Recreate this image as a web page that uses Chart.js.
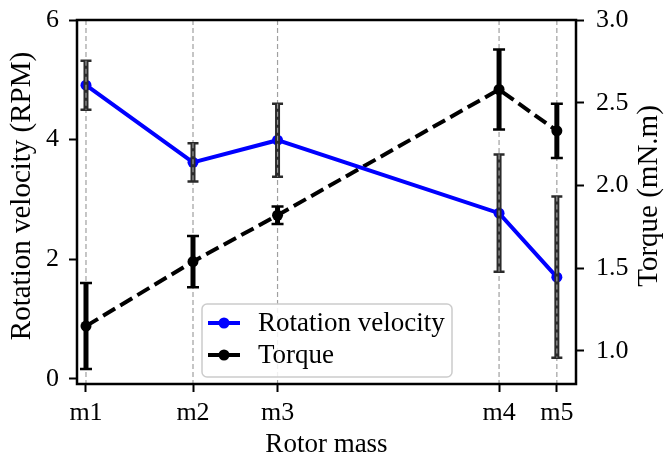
<!DOCTYPE html>
<html>
<head>
<meta charset="utf-8">
<script src="https://cdn.jsdelivr.net/npm/chart.js@4.4.0/dist/chart.umd.min.js"></script>
<style>
html,body{margin:0;padding:0;background:#fff;}
canvas{display:block;}
</style>
</head>
<body>
<canvas id="c" width="665" height="464"></canvas>
<script>
// ---- data ----
const categories = ['m1', 'm2', 'm3', 'm4', 'm5'];
const massPositions = [1.0, 2.0, 2.79, 4.86, 5.40];
const rotationVelocity = [4.91, 3.62, 3.99, 2.77, 1.70];
const rotationVelocityErr = [0.41, 0.32, 0.61, 0.98, 1.35];
const torque = [1.15, 1.54, 1.82, 2.58, 2.33];
const torqueErr = [0.26, 0.155, 0.053, 0.242, 0.164];
const velocityTicks = [0, 2, 4, 6];
const torqueTicks = [1.0, 1.5, 2.0, 2.5, 3.0];

const FONT = "'Liberation Serif', 'Times New Roman', 'DejaVu Serif', serif";
const TICK_SIZE = 26;
const TITLE_SIZE = 27;
const YTITLE_SIZE = 29;

Chart.defaults.font.family = FONT;
Chart.defaults.color = '#000';

function drawErrorBars(ctx, xs, ys, vals, errs, st) {
  ctx.save();
  ctx.setLineDash([]);
  ctx.strokeStyle = st.color;
  for (let i = 0; i < vals.length; i++) {
    const px = xs.getPixelForValue(massPositions[i]);
    const top = ys.getPixelForValue(vals[i] + errs[i]);
    const bot = ys.getPixelForValue(vals[i] - errs[i]);
    ctx.lineWidth = st.width;
    ctx.beginPath(); ctx.moveTo(px, top); ctx.lineTo(px, bot); ctx.stroke();
    ctx.lineWidth = st.capWidth;
    ctx.beginPath();
    ctx.moveTo(px - st.cap, top); ctx.lineTo(px + st.cap, top);
    ctx.moveTo(px - st.cap, bot); ctx.lineTo(px + st.cap, bot);
    ctx.stroke();
    if (st.overlayGrid) {
      ctx.save();
      ctx.strokeStyle = '#9a9a9a';
      ctx.lineWidth = 1.2;
      ctx.setLineDash([5, 3]);
      ctx.beginPath(); ctx.moveTo(px, top); ctx.lineTo(px, bot); ctx.stroke();
      ctx.restore();
    }
  }
  ctx.restore();
}

const gridPlugin = {
  id: 'dashedGrid',
  beforeDatasetsDraw(chart) {
    const {ctx, chartArea, scales} = chart;
    ctx.save();
    ctx.strokeStyle = '#a0a0a0';
    ctx.lineWidth = 1.2;
    ctx.setLineDash([5, 3]);
    massPositions.forEach(v => {
      const px = scales.x.getPixelForValue(v);
      ctx.beginPath(); ctx.moveTo(px, chartArea.top); ctx.lineTo(px, chartArea.bottom); ctx.stroke();
    });
    ctx.restore();
  }
};

const errorBarPlugin = {
  id: 'errorBars',
  afterDatasetsDraw(chart) {
    const {ctx, scales} = chart;
    drawErrorBars(ctx, scales.x, scales.y, rotationVelocity, rotationVelocityErr,
      {color: '#2b2b2b', width: 5, cap: 5.5, capWidth: 2.5, overlayGrid: true});
    drawErrorBars(ctx, scales.x, scales.y1, torque, torqueErr,
      {color: '#000000', width: 5, cap: 6, capWidth: 2.5});
  }
};

function drawVerticalTitle(ctx, text, x, y) {
  ctx.save();
  ctx.fillStyle = '#000';
  ctx.font = YTITLE_SIZE + 'px ' + FONT;
  ctx.textAlign = 'center';
  ctx.textBaseline = 'middle';
  ctx.translate(x, y);
  ctx.rotate(-Math.PI / 2);
  ctx.fillText(text, 0, 0);
  ctx.restore();
}

const framePlugin = {
  id: 'frameAndLegend',
  afterDraw(chart) {
    const {ctx, chartArea: a} = chart;
    ctx.save();
    // frame
    ctx.strokeStyle = '#000';
    ctx.lineWidth = 2.5;
    ctx.setLineDash([]);
    ctx.strokeRect(a.left, a.top, a.right - a.left, a.bottom - a.top);

    // y axis titles (both read bottom to top)
    const midY = (a.top + a.bottom) / 2 - 6;
    drawVerticalTitle(ctx, 'Rotation velocity (RPM)', 22, midY);
    drawVerticalTitle(ctx, 'Torque (mN.m)', 649, midY);

    // legend
    const bx = 202, by = 304, bw = 250, bh = 73;
    ctx.beginPath();
    ctx.roundRect(bx, by, bw, bh, 5);
    ctx.fillStyle = 'rgba(255,255,255,0.85)';
    ctx.fill();
    ctx.lineWidth = 1.5;
    ctx.strokeStyle = '#cccccc';
    ctx.stroke();

    const ds = chart.data.datasets;
    const rows = [323, 355];
    ds.forEach((d, i) => {
      const yy = rows[i];
      ctx.save();
      ctx.strokeStyle = d.borderColor;
      ctx.lineWidth = d.borderWidth;
      ctx.setLineDash(d.borderDash || []);
      ctx.beginPath(); ctx.moveTo(208, yy); ctx.lineTo(240, yy); ctx.stroke();
      ctx.setLineDash([]);
      ctx.fillStyle = d.backgroundColor;
      ctx.beginPath(); ctx.arc(224, yy, 5.5, 0, Math.PI * 2); ctx.fill();
      ctx.restore();
      ctx.fillStyle = '#000';
      ctx.font = TITLE_SIZE + 'px ' + FONT;
      ctx.textAlign = 'left';
      ctx.textBaseline = 'middle';
      ctx.fillText(d.label, 258, yy + 1);
    });
    ctx.restore();
  }
};

function noPad(s) { s.paddingTop = 0; s.paddingBottom = 0; s.paddingLeft = 0; s.paddingRight = 0; }

const ctx = document.getElementById('c').getContext('2d');
new Chart(ctx, {
  type: 'line',
  data: {
    datasets: [
      {
        label: 'Rotation velocity',
        data: massPositions.map((m, i) => ({x: m, y: rotationVelocity[i]})),
        yAxisID: 'y',
        borderColor: '#0000ff',
        backgroundColor: '#0000ff',
        borderWidth: 4,
        pointRadius: 5.5,
        pointBorderWidth: 0,
        tension: 0
      },
      {
        label: 'Torque',
        data: massPositions.map((m, i) => ({x: m, y: torque[i]})),
        yAxisID: 'y1',
        borderColor: '#000000',
        backgroundColor: '#000000',
        borderWidth: 4,
        borderDash: [14, 6],
        pointRadius: 5.5,
        pointBorderWidth: 0,
        tension: 0
      }
    ]
  },
  options: {
    responsive: false,
    animation: false,
    devicePixelRatio: 1,
    layout: {padding: {top: 20, left: 0, right: 0, bottom: 0}},
    plugins: {legend: {display: false}, tooltip: {enabled: false}},
    scales: {
      x: {
        type: 'linear',
        position: 'bottom',
        min: 0.916,
        max: 5.579,
        afterBuildTicks: s => { s.ticks = massPositions.map(v => ({value: v})); },
        afterFit: s => { s.height = 80; noPad(s); },
        ticks: {
          autoSkip: false, maxRotation: 0, padding: 6,
          font: {size: TICK_SIZE}, color: '#000',
          callback: (v, i) => categories[i]
        },
        grid: {drawOnChartArea: false, drawTicks: true, tickLength: 8, tickWidth: 2, tickColor: '#000'},
        border: {display: false},
        title: {display: true, text: 'Rotor mass', font: {size: TITLE_SIZE}, color: '#000', padding: {top: 0, bottom: 3}}
      },
      y: {
        type: 'linear',
        position: 'left',
        min: -0.087,
        max: 6,
        afterBuildTicks: s => { s.ticks = velocityTicks.map(v => ({value: v})); },
        afterFit: s => { s.width = 77; noPad(s); },
        ticks: {padding: 10, font: {size: TICK_SIZE}, color: '#000', callback: v => String(v)},
        grid: {drawOnChartArea: false, drawTicks: true, tickLength: 8, tickWidth: 2, tickColor: '#000'},
        border: {display: false},
        title: {display: false}
      },
      y1: {
        type: 'linear',
        position: 'right',
        min: 0.8,
        max: 3.0,
        afterBuildTicks: s => { s.ticks = torqueTicks.map(v => ({value: v})); },
        afterFit: s => { s.width = 89; noPad(s); },
        ticks: {padding: 12, font: {size: TICK_SIZE}, color: '#000', callback: v => v.toFixed(1)},
        grid: {drawOnChartArea: false, drawTicks: true, tickLength: 8, tickWidth: 2, tickColor: '#000'},
        border: {display: false},
        title: {display: false}
      }
    }
  },
  plugins: [gridPlugin, errorBarPlugin, framePlugin]
});
</script>
</body>
</html>
